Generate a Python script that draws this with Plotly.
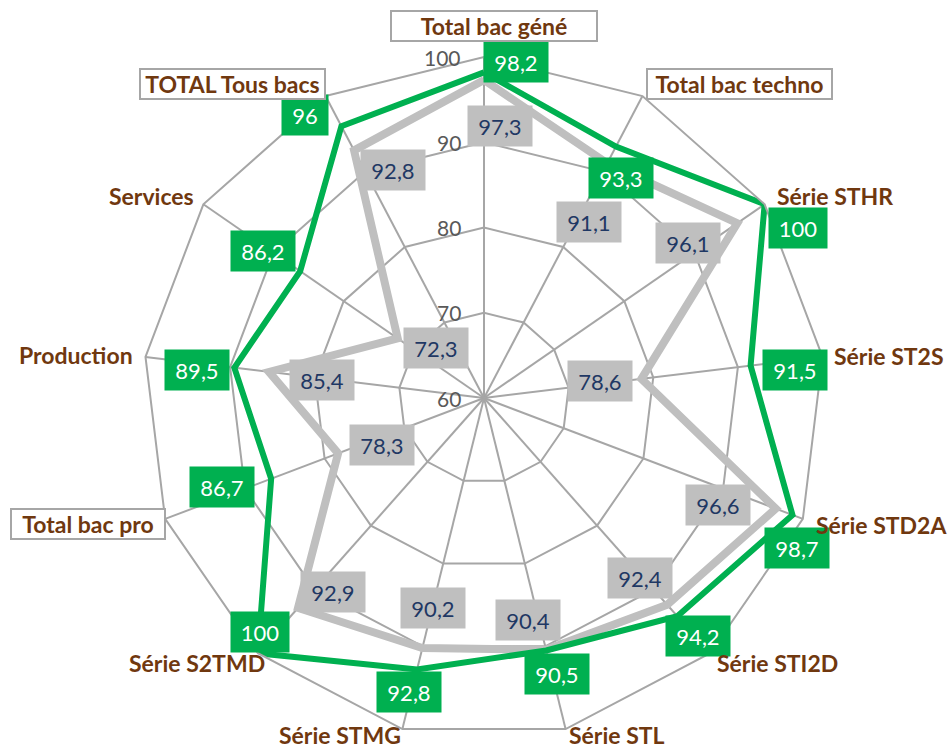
import math
import plotly.graph_objects as go

# ---------------- data ----------------
categories = ["Total bac géné", "Total bac techno", "Série STHR", "Série ST2S",
              "Série STD2A", "Série STI2D", "Série STL", "Série STMG",
              "Série S2TMD", "Total bac pro", "Production", "Services",
              "TOTAL Tous bacs"]
series_green = [98.2, 93.3, 100, 91.5, 98.7, 94.2, 90.5, 92.8, 100, 86.7, 89.5, 86.2, 96]
series_gray = [97.3, 91.1, 96.1, 78.6, 96.6, 92.4, 90.4, 90.2, 92.9, 78.3, 85.4, 72.3, 92.8]
radial_ticks = [60, 70, 80, 90, 100]

# ---------------- layout / style ----------------
W, H = 948, 751
CX, CY, R = 484, 398, 341
RMIN, RMAX = 60, 100
N = len(categories)
GREEN = "#00B050"
GRAY = "#BFBFBF"
GRID = "#A6A6A6"
BROWN = "#70380F"
NAVY = "#1F3864"
FONT = "Lato"

# label offsets (pixels) from the data point
green_off = [(32, -10), (5, 31), (33, 24), (44, 4), (5, 33), (21, 20), (11, 24),
             (-8, 23), (2, -21), (-49, 8), (-37, 2), (-37, -20), (-36, -11)]
gray_off = [(16, 46), (-18, 59), (-49, 20), (-41, 2), (-58, -4), (-27, -27), (-18, -30),
            (11, -40), (35, -16), (44, -8), (53, 8), (38, 10), (39, 20)]
box_w = {2: 36, 3: 48, 4: 54}

# category label positions (pixels) and boxes
cat_pos = [(494, 26), (739, 84), (835, 196), (889, 356), (881, 525), (777, 663),
           (617, 735), (340, 735), (197, 663), (88, 524), (76, 355), (151, 196),
           (232, 84)]
boxed = {0: 202, 1: 181, 9: 150, 12: 181}


def to_paper(r, k):
    a = 2 * math.pi * k / N
    rp = (r - RMIN) / (RMAX - RMIN) * R
    px = CX + rp * math.sin(a)
    py = CY - rp * math.cos(a)
    return px / W, 1 - py / H


def fmt(v):
    return ("%g" % v).replace(".", ",")


fig = go.Figure()
fig.add_trace(go.Scatterpolar(
    r=series_gray + series_gray[:1], theta=categories + categories[:1],
    mode="lines", line=dict(color=GRAY, width=8), hoverinfo="skip", showlegend=False))
fig.add_trace(go.Scatterpolar(
    r=series_green + series_green[:1], theta=categories + categories[:1],
    mode="lines", line=dict(color=GREEN, width=6), hoverinfo="skip", showlegend=False))

annotations = []
# value labels
for series, offs, bg, fc in ((series_gray, gray_off, GRAY, NAVY),
                             (series_green, green_off, GREEN, "white")):
    for k, v in enumerate(series):
        x, y = to_paper(v, k)
        dx, dy = offs[k]
        txt = fmt(v)
        annotations.append(dict(
            x=x, y=y, xref="paper", yref="paper", text=txt,
            showarrow=True, arrowcolor="rgba(0,0,0,0)", arrowwidth=0.1,
            ax=dx, ay=dy, bgcolor=bg, borderpad=5,
            width=box_w.get(len(txt), 54), height=30,
            font=dict(family=FONT, size=22, color=fc)))

# radial tick labels
for t in radial_ticks:
    x, y = to_paper(t, 0)
    annotations.append(dict(
        x=x - 21 / W, y=y, xref="paper", yref="paper", text=str(t),
        showarrow=False, xanchor="right", yanchor="middle",
        font=dict(family=FONT, size=21, color="#595959")))

# category labels
for k, name in enumerate(categories):
    px, py = cat_pos[k]
    a = dict(x=px / W, y=1 - py / H, xref="paper", yref="paper",
             text="<b>%s</b>" % name, showarrow=False,
             xanchor="center", yanchor="middle",
             font=dict(family=FONT, size=23, color=BROWN))
    if k in boxed:
        a.update(bgcolor="white", bordercolor=GRID, borderwidth=2,
                 borderpad=1, width=boxed[k], height=26, align="center")
    annotations.append(a)

fig.update_layout(
    width=W, height=H,
    margin=dict(l=0, r=0, t=0, b=0),
    paper_bgcolor="white",
    polar=dict(
        domain=dict(x=[(CX - R) / W, (CX + R) / W],
                    y=[1 - (CY + R) / H, 1 - (CY - R) / H]),
        bgcolor="white",
        gridshape="linear",
        angularaxis=dict(direction="clockwise", rotation=90, showticklabels=False,
                         ticks="", gridcolor=GRID, gridwidth=1.5,
                         linecolor=GRID, linewidth=2, showline=True),
        radialaxis=dict(range=[RMIN, RMAX], tickvals=radial_ticks, showticklabels=False,
                        ticks="", gridcolor=GRID, gridwidth=1.5, showline=False),
    ),
    annotations=annotations,
)

fig.write_html("out.html", config={"displayModeBar": False},
               post_script="document.body.style.margin='0px';document.body.style.overflow='hidden';")
